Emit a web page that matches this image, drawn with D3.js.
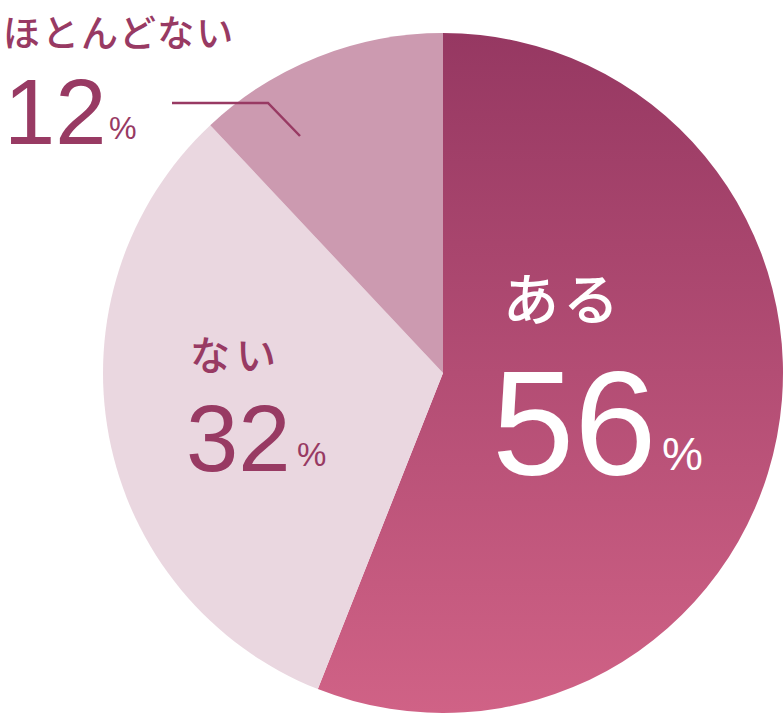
<!DOCTYPE html>
<html>
<head>
<meta charset="utf-8">
<script src="https://cdn.jsdelivr.net/npm/d3@7"></script>
<style>
  body { margin: 0; background: #fff; }
  text { font-family: "Liberation Sans", Arial, sans-serif; }
  .jp { font-family: "Noto Sans CJK JP", sans-serif; font-weight: 500; }
</style>
</head>
<body>
<div id="chart"></div>
<script>
var width = 784, height = 713;

// data
var categories = ["ある", "ない", "ほとんどない"];
var values = [56, 32, 12];
var colors = ["url(#gradAru)", "#ead7e0", "#cc9ab0"];

var cx = 443, cy = 373, radius = 340;

var svg = d3.select("#chart")
  .append("svg")
    .attr("width", width)
    .attr("height", height);

// gradient for the big slice (coords are in the translated pie group)
var defs = svg.append("defs");
var grad = defs.append("linearGradient")
    .attr("id", "gradAru")
    .attr("gradientUnits", "userSpaceOnUse")
    .attr("x1", 0).attr("y1", -radius)
    .attr("x2", 0).attr("y2", radius);
grad.append("stop").attr("offset", "0%").style("stop-color", "#963862");
grad.append("stop").attr("offset", "100%").style("stop-color", "#d06286");

var pie = d3.pie().sort(null).value(function(d){ return d; });
var arc = d3.arc().innerRadius(0).outerRadius(radius);

var g = svg.append("g")
    .attr("transform", "translate(" + cx + "," + cy + ")");

g.selectAll("path")
  .data(pie(values))
  .enter().append("path")
    .attr("d", arc)
    .attr("fill", function(d, i){ return colors[i]; });

// labels
var labels = [
  {name: categories[0], val: values[0], color: "#fff", x: 503, ny: 320, ns: 56, ls: 4, vx: 492, vy: 475, vs: 148, py: 470, ps: 46, px: 662},
  {name: categories[1], val: values[1], color: "#983a63", x: 190, ny: 370, ns: 40, ls: 6, vx: 186, vy: 471, vs: 94, py: 466, ps: 33, px: 297},
  {name: categories[2], val: values[2], color: "#983a63", x: 3, ny: 47, ns: 37, ls: 2, vx: 4, vy: 144, vs: 92, py: 139, ps: 31, px: 109}
];

var lg = svg.append("g");
labels.forEach(function(d){
  lg.append("text")
    .attr("class", "jp")
    .attr("x", d.x)
    .attr("y", d.ny)
    .attr("fill", d.color)
    .style("font-size", d.ns + "px")
    .style("letter-spacing", d.ls + "px")
    .text(d.name);
  lg.append("text")
    .attr("x", d.vx)
    .attr("y", d.vy)
    .attr("fill", d.color)
    .style("font-size", d.vs + "px")
    .text(d.val);
  lg.append("text")
    .attr("x", d.px)
    .attr("y", d.py)
    .attr("fill", d.color)
    .style("font-size", d.ps + "px")
    .text("%");
});

// leader line for small slice
svg.append("path")
  .attr("d", d3.line()([[172, 103], [268, 103], [300, 136]]))
  .attr("stroke", "#983a63")
  .attr("stroke-width", 2.5)
  .attr("fill", "none");
</script>
</body>
</html>
